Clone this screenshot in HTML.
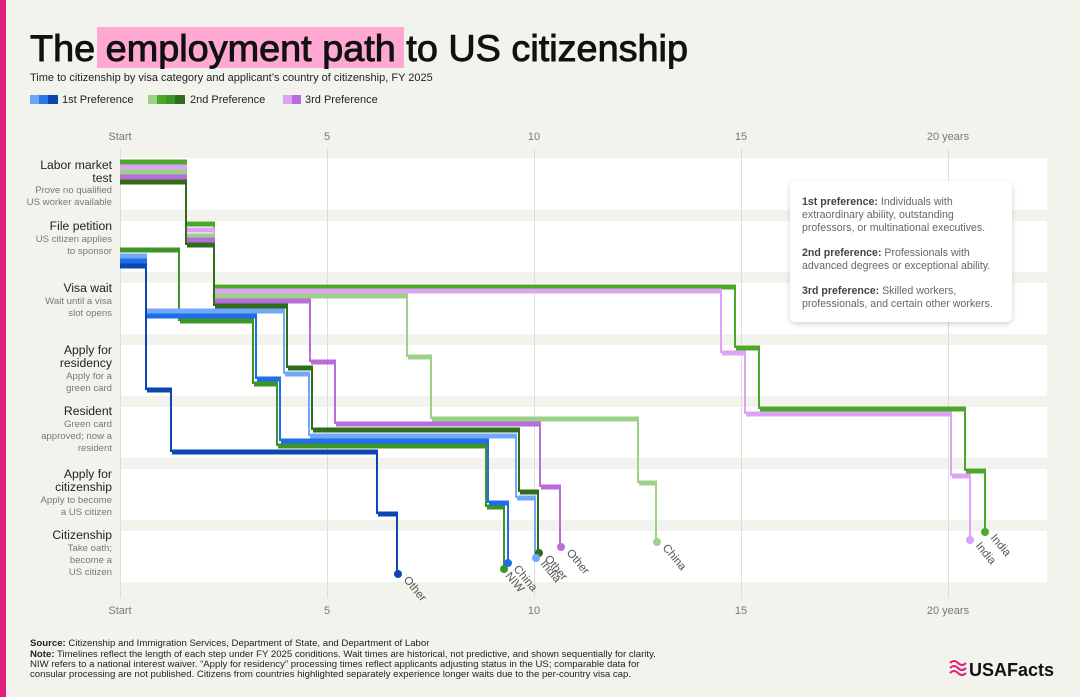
<!DOCTYPE html>
<html><head><meta charset="utf-8"><style>
html,body{margin:0;padding:0;background:#f3f3ee;}
svg{display:block;font-family:"Liberation Sans",sans-serif;}
</style></head><body>
<svg width="1080" height="697" viewBox="0 0 1080 697" xmlns="http://www.w3.org/2000/svg">
<rect width="1080" height="697" fill="#f3f3ee"/>
<rect x="0" y="0" width="6" height="697" fill="#e0207a"/>
<rect x="97" y="27" width="307" height="41" fill="#ffa9d2"/>
<text x="30" y="61" font-size="37" fill="#111" stroke="#111" stroke-width="0.9" textLength="658" lengthAdjust="spacingAndGlyphs">The employment path to US citizenship</text>
<text x="30" y="81" font-size="11" fill="#222">Time to citizenship by visa category and applicant’s country of citizenship, FY 2025</text>
<g>
<rect x="30" y="95" width="9" height="9" fill="#6aa6f8"/><rect x="39" y="95" width="9" height="9" fill="#2a78ea"/><rect x="48" y="95" width="10" height="9" fill="#0c46b2"/>
<text x="62" y="103" font-size="11" fill="#222">1st Preference</text>
<rect x="148" y="95" width="9" height="9" fill="#9dd088"/><rect x="157" y="95" width="9" height="9" fill="#4ca82b"/><rect x="166" y="95" width="9" height="9" fill="#3f9427"/><rect x="175" y="95" width="10" height="9" fill="#2f6d1a"/>
<text x="190" y="103" font-size="11" fill="#222">2nd Preference</text>
<rect x="283" y="95" width="9" height="9" fill="#dfa3f5"/><rect x="292" y="95" width="9" height="9" fill="#b86ddb"/>
<text x="305" y="103" font-size="11" fill="#222">3rd Preference</text>
</g>
<g fill="#ffffff">
<rect x="120" y="158" width="927" height="52"/>
<rect x="120" y="221" width="927" height="51"/>
<rect x="120" y="283" width="927" height="51"/>
<rect x="120" y="345" width="927" height="51"/>
<rect x="120" y="407" width="927" height="51"/>
<rect x="120" y="469" width="927" height="51"/>
<rect x="120" y="531" width="927" height="51"/>
</g>
<g stroke="#deded8" stroke-width="1">
<line x1="120.5" y1="148" x2="120.5" y2="598"/>
<line x1="327.5" y1="148" x2="327.5" y2="598"/>
<line x1="534.5" y1="148" x2="534.5" y2="598"/>
<line x1="741.5" y1="148" x2="741.5" y2="598"/>
<line x1="948.5" y1="148" x2="948.5" y2="598"/>
</g>
<g font-size="11" fill="#777" text-anchor="middle">
<text x="120" y="140">Start</text><text x="327" y="140">5</text><text x="534" y="140">10</text><text x="741" y="140">15</text><text x="948" y="140">20 years</text>
<text x="120" y="614">Start</text><text x="327" y="614">5</text><text x="534" y="614">10</text><text x="741" y="614">15</text><text x="948" y="614">20 years</text>
</g>
<g text-anchor="end">
<g font-size="12.2" fill="#222">
<text x="112" y="169">Labor market</text><text x="112" y="182">test</text>
<text x="112" y="230">File petition</text>
<text x="112" y="292">Visa wait</text>
<text x="112" y="354">Apply for</text><text x="112" y="367">residency</text>
<text x="112" y="415">Resident</text>
<text x="112" y="478">Apply for</text><text x="112" y="491">citizenship</text>
<text x="112" y="539">Citizenship</text>
</g>
<g font-size="9.6" fill="#777">
<text x="112" y="193">Prove no qualified</text><text x="112" y="205">US worker available</text>
<text x="112" y="242">US citizen applies</text><text x="112" y="254">to sponsor</text>
<text x="112" y="304">Wait until a visa</text><text x="112" y="316">slot opens</text>
<text x="112" y="379">Apply for a</text><text x="112" y="391">green card</text>
<text x="112" y="427">Green card</text><text x="112" y="439">approved; now a</text><text x="112" y="451">resident</text>
<text x="112" y="503">Apply to become</text><text x="112" y="515">a US citizen</text>
<text x="112" y="551">Take oath;</text><text x="112" y="563">become a</text><text x="112" y="575">US citizen</text>
</g>
</g>
<g fill="none" stroke-linecap="butt">
<g stroke="#4ca82b"><path stroke-width="5" d="M120 162H187M187 224H215M215 287H736M736 348H760M760 409H966M966 471H986"/>
<path stroke-width="2" d="M186 162V224M214 224V287M735 287V348M759 348V409M965 409V471M985 471V532"/></g>
<g stroke="#dfa3f5"><path stroke-width="5" d="M120 167H187M187 230H215M215 291H722M722 353H746M746 414H952M952 476H971"/>
<path stroke-width="2" d="M186 167V230M214 230V291M721 291V353M745 353V414M951 414V476M970 476V540"/></g>
<g stroke="#9dd088"><path stroke-width="5" d="M120 172H187M187 236H215M215 296H408M408 357H432M432 419H639M639 483H657"/>
<path stroke-width="2" d="M186 172V236M214 236V296M407 296V357M431 357V419M638 419V483M656 483V542"/></g>
<g stroke="#b86ddb"><path stroke-width="5" d="M120 177H187M187 240H215M215 301H311M311 362H336M336 424H541M541 487H561"/>
<path stroke-width="2" d="M186 177V240M214 240V301M310 301V362M335 362V424M540 424V487M560 487V547"/></g>
<g stroke="#2f6d1a"><path stroke-width="5" d="M120 182H187M187 245H215M215 306H288M288 368H313M313 430H520M520 492H539"/>
<path stroke-width="2" d="M186 182V245M214 245V306M287 306V368M312 368V430M519 430V492M538 492V553"/></g>
<g stroke="#3f9427"><path stroke-width="5" d="M120 250H180M180 321H254M254 384H278M278 446H487M487 507H505"/>
<path stroke-width="2" d="M179 250V321M253 321V384M277 384V446M486 446V507M504 507V569"/></g>
<g stroke="#71a8f8"><path stroke-width="5" d="M120 256H147M147 311H285M285 374H310M310 436H517M517 498H536"/>
<path stroke-width="2" d="M146 256V311M284 311V374M309 374V436M516 436V498M535 498V558"/></g>
<g stroke="#1e6ee8"><path stroke-width="5" d="M120 261H147M147 316H257M257 379H281M281 441H489M489 503H509"/>
<path stroke-width="2" d="M146 261V316M256 316V379M280 379V441M488 441V503M508 503V563"/></g>
<g stroke="#0c46b2"><path stroke-width="5" d="M120 266H147M147 390H172M172 452H378M378 514H398"/>
<path stroke-width="2" d="M146 266V390M171 390V452M377 452V514M397 514V574"/></g>
</g>
<g>
<circle cx="985" cy="532" r="4" fill="#4ca82b"/>
<circle cx="970" cy="540" r="4" fill="#dfa3f5"/>
<circle cx="657" cy="542" r="4" fill="#9dd088"/>
<circle cx="561" cy="547" r="4" fill="#b86ddb"/>
<circle cx="539" cy="553" r="4" fill="#2f6d1a"/>
<circle cx="504" cy="569" r="4" fill="#3f9427"/>
<circle cx="536" cy="558" r="4" fill="#71a8f8"/>
<circle cx="508" cy="563" r="4" fill="#1e6ee8"/>
<circle cx="398" cy="574" r="4" fill="#0c46b2"/>
</g>
<g font-size="11.5" fill="#555">
<text transform="translate(990,538) rotate(50)">India</text>
<text transform="translate(975,546) rotate(50)">India</text>
<text transform="translate(662,548) rotate(50)">China</text>
<text transform="translate(566,553) rotate(50)">Other</text>
<text transform="translate(544,559) rotate(50)">Other</text>
<text transform="translate(540,564) rotate(50)">India</text>
<text transform="translate(513,569) rotate(50)">China</text>
<text transform="translate(505,576) rotate(50)">NIW</text>
<text transform="translate(403,580) rotate(50)">Other</text>
</g>
<defs><filter id="sh" x="-10%" y="-10%" width="120%" height="130%"><feDropShadow dx="0" dy="2" stdDeviation="3" flood-color="#000" flood-opacity="0.18"/></filter></defs>
<rect x="790" y="181" width="222" height="141" rx="6" fill="#fff" filter="url(#sh)"/>
<g font-size="10.6" fill="#666">
<text x="802" y="205"><tspan font-weight="bold" fill="#444">1st preference:</tspan> Individuals with</text>
<text x="802" y="218">extraordinary ability, outstanding</text>
<text x="802" y="231">professors, or multinational executives.</text>
<text x="802" y="256"><tspan font-weight="bold" fill="#444">2nd preference:</tspan> Professionals with</text>
<text x="802" y="269">advanced degrees or exceptional ability.</text>
<text x="802" y="294"><tspan font-weight="bold" fill="#444">3rd preference:</tspan> Skilled workers,</text>
<text x="802" y="307">professionals, and certain other workers.</text>
</g>
<g font-size="9.6" fill="#222">
<text x="30" y="646"><tspan font-weight="bold">Source:</tspan> Citizenship and Immigration Services, Department of State, and Department of Labor</text>
<text x="30" y="657"><tspan font-weight="bold">Note:</tspan> Timelines reflect the length of each step under FY 2025 conditions. Wait times are historical, not predictive, and shown sequentially for clarity.</text>
<text x="30" y="667">NIW refers to a national interest waiver. “Apply for residency” processing times reflect applicants adjusting status in the US; comparable data for</text>
<text x="30" y="677">consular processing are not published. Citizens from countries highlighted separately experience longer waits due to the per-country visa cap.</text>
</g>
<g>
<path d="M950 663 q4 -4 8 0 t8 0 M950 668 q4 -4 8 0 t8 0 M950 673 q4 -4 8 0 t8 0" stroke="#e0207a" stroke-width="2" fill="none"/>
<text x="969" y="676" font-size="18" font-weight="bold" fill="#111">USAFacts</text>
</g>
</svg>
</body></html>
